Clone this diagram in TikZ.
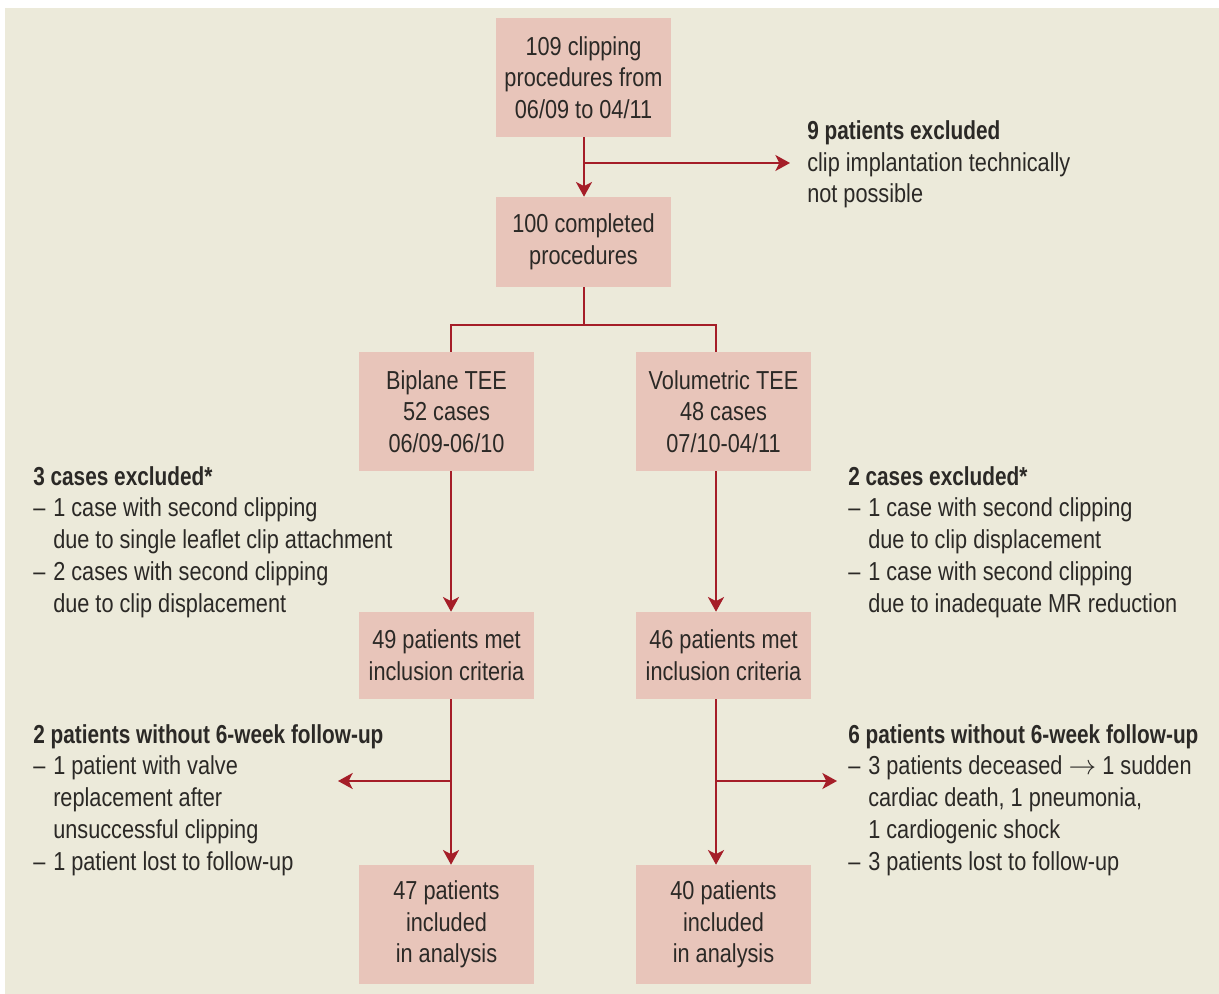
\documentclass[tikz,border=0pt]{standalone}
\usepackage{fontspec}
\setmainfont{Liberation Sans}[FakeStretch=0.835, BoldFeatures={FakeStretch=0.80}]
\usetikzlibrary{arrows.meta}
\definecolor{bg}{HTML}{ECEADA}
\definecolor{boxc}{HTML}{E8C5BA}
\definecolor{arrc}{HTML}{A51E28}
\definecolor{txt}{HTML}{2B2926}
\newcommand\dsh{\makebox[15pt][l]{–}}
\newcommand\ind{\hspace*{15pt}}
\tikzset{
  flowbox/.style={fill=boxc, draw=none, minimum width=131.25pt, inner sep=0pt, align=center,
    text=txt, font=\fontsize{19.5}{23.8}\selectfont},
  note/.style={align=left, inner sep=0pt, text=txt, font=\fontsize{19.5}{23.8}\selectfont, anchor=base west},
  conn/.style={draw=arrc, line width=1.7pt},
  arr/.style={conn, -{Stealth[length=11pt, width=12pt, inset=3pt]}}
}
\begin{document}
\begin{tikzpicture}[x=0.75pt, y=-0.75pt]
\useasboundingbox (0,0) rectangle (1219,994);
\fill[white] (0,0) rectangle (1219,994);
\fill[bg] (5,8) rectangle (1219,994);

\node[flowbox, minimum height=89.25pt] (b1) at (583.5,77.5) {109 clipping\\procedures from\\06/09 to 04/11};
\node[flowbox, minimum height=67.5pt] (b2) at (583.5,242) {100 completed\\procedures};
\node[flowbox, minimum height=89.25pt] (bip) at (446.5,411.5) {Biplane TEE\\52 cases\\06/09-06/10};
\node[flowbox, minimum height=89.25pt] (vol) at (723.5,411.5) {Volumetric TEE\\48 cases\\07/10-04/11};
\node[flowbox, minimum height=65.25pt] (m49) at (446.5,655.5) {49 patients met\\inclusion criteria};
\node[flowbox, minimum height=65.25pt] (m46) at (723.5,655.5) {46 patients met\\inclusion criteria};
\node[flowbox, minimum height=89.25pt] (i47) at (446.5,924.5) {47 patients\\included\\in analysis};
\node[flowbox, minimum height=89.25pt] (i40) at (723.5,924.5) {40 patients\\included\\in analysis};

\coordinate (cx) at (584,0);
\coordinate (lx) at (451,0);
\coordinate (rx) at (716,0);
\coordinate (split) at (584,325);
\coordinate (j1) at (584,163);
\coordinate (e1) at (790,163);
\coordinate (jl) at (451,781);
\coordinate (el) at (338,781);
\coordinate (jr) at (716,781);
\coordinate (er) at (837,781);

\node[note] (n1) at (807,203) {\textbf{9 patients excluded}\\clip implantation technically\\not possible};
\node[note] (n2) at (33,612) {\textbf{3 cases excluded*}\\\dsh 1 case with second clipping\\\ind due to single leaflet clip attachment\\\dsh 2 cases with second clipping\\\ind due to clip displacement};
\node[note] (n3) at (848,612) {\textbf{2 cases excluded*}\\\dsh 1 case with second clipping\\\ind due to clip displacement\\\dsh 1 case with second clipping\\\ind due to inadequate MR reduction};
\node[note] (n4) at (33,870) {\textbf{2 patients without 6-week follow-up}\\\dsh 1 patient with valve\\\ind replacement after\\\ind unsuccessful clipping\\\dsh 1 patient lost to follow-up};
\node[note] (n5) at (848,870) {\textbf{6 patients without 6-week follow-up}\\\dsh 3 patients deceased $\rightarrow$ 1 sudden\\\ind cardiac death, 1 pneumonia,\\\ind 1 cardiogenic shock\\\dsh 3 patients lost to follow-up};

\draw[arr] (b1.south -| cx) -- (b2.north -| cx);
\draw[arr] (j1) -- (e1);
\draw[conn] (b2.south -| cx) -- (split);
\draw[conn] (bip.north -| lx) -- (split -| lx) -- (split -| rx) -- (vol.north -| rx);
\draw[arr] (bip.south -| lx) -- (m49.north -| lx);
\draw[arr] (vol.south -| rx) -- (m46.north -| rx);
\draw[arr] (m49.south -| lx) -- (i47.north -| lx);
\draw[arr] (m46.south -| rx) -- (i40.north -| rx);
\draw[arr] (jl) -- (el);
\draw[arr] (jr) -- (er);
\end{tikzpicture}
\end{document}
